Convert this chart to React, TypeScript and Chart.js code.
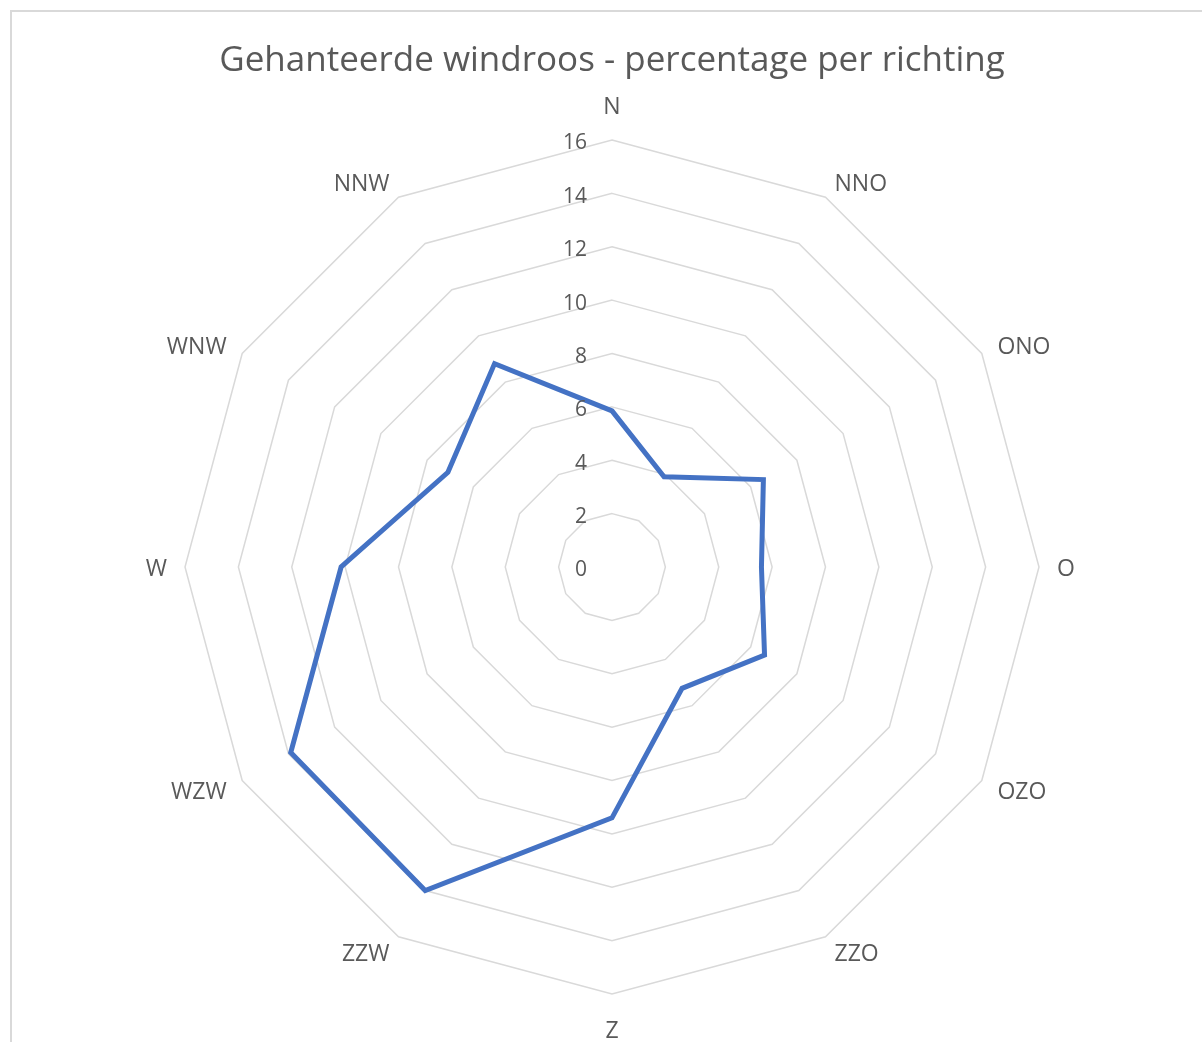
import React, { useEffect, useRef } from "react";
import { Chart, registerables } from "chart.js";

Chart.register(...registerables);

const TITLE = "Gehanteerde windroos - percentage per richting";
const directions = ["N", "NNO", "ONO", "O", "OZO", "ZZO", "Z", "ZZW", "WZW", "W", "WNW", "NNW"];
const percentages = [5.85, 3.9, 6.55, 5.6, 6.6, 5.25, 9.4, 14.0, 13.9, 10.15, 7.1, 8.8];
const tickValues = [0, 2, 4, 6, 8, 10, 12, 14, 16];

const FONT = "'Open Sans', 'Noto Sans', sans-serif";
const TEXT = "#595959";
const GRID = "#d9d9d9";
const LINE = "#4472C4";

const labelsPlugin = {
  id: "excelLabels",
  afterDraw(chart: any) {
    const scale = chart.scales.r;
    const ctx = chart.ctx;
    ctx.save();
    ctx.fillStyle = TEXT;
    // tick labels
    ctx.font = `21px ${FONT}`;
    ctx.textAlign = "right";
    ctx.textBaseline = "middle";
    scale.ticks.forEach((t: any, i: number) => {
      const d = scale.getDistanceFromCenterForValue(t.value);
      ctx.fillText(tickValues[i] !== undefined ? String(tickValues[i]) : t.label, scale.xCenter - 25, scale.yCenter - d + 3.5);
    });
    // point labels
    ctx.font = `23px ${FONT}`;
    directions.forEach((lab, i) => {
      const p = scale.getPointPosition(i, scale.drawingArea + 18);
      const dx = p.x - scale.xCenter;
      const dy = p.y - scale.yCenter;
      let y = p.y + 2.5;
      if (Math.abs(dx) < 1) {
        ctx.textAlign = "center";
        y += dy < 0 ? -17 : 17;
      } else if (dx > 0) {
        ctx.textAlign = "left";
      } else {
        ctx.textAlign = "right";
      }
      ctx.textBaseline = "middle";
      ctx.fillText(lab, p.x, y);
    });
    ctx.restore();
  },
};

export default function App() {
  const ref = useRef<HTMLCanvasElement | null>(null);
  useEffect(() => {
    if (!ref.current) return;
    const chart = new Chart(ref.current, {
      type: "radar",
      data: {
        labels: directions,
        datasets: [
          {
            label: "Percentage",
            data: percentages,
            borderColor: LINE,
            borderWidth: 5,
            fill: false,
            pointRadius: 0,
            pointHoverRadius: 0,
            tension: 0,
          },
        ],
      },
      options: {
        animation: false,
        responsive: false,
        maintainAspectRatio: false,
        layout: { padding: { left: 185, right: 163, top: 0, bottom: 47 } },
        plugins: {
          legend: { display: false },
          tooltip: { enabled: false },
          title: {
            display: true,
            text: TITLE,
            color: TEXT,
            font: { family: FONT, size: 35, weight: "normal", lineHeight: 1.2 },
            padding: { top: 40, bottom: 58 },
          },
        },
        scales: {
          r: {
            min: 0,
            max: 16,
            ticks: { display: false, stepSize: 2 },
            pointLabels: { display: false },
            angleLines: { display: false },
            grid: { color: GRID, lineWidth: 1.5, circular: false },
          },
        },
      },
      plugins: [labelsPlugin],
    });
    return () => chart.destroy();
  }, []);
  return (
    <div style={{ position: "fixed", left: 0, top: 0, width: 1202, height: 1042, overflow: "hidden", background: "#fff" }}>
      <div
        style={{
          position: "absolute",
          left: 10,
          top: 10,
          width: 1300,
          height: 1200,
          border: "2px solid #d9d9d9",
          boxSizing: "border-box",
        }}
      />
      <canvas ref={ref} width={1202} height={1042} style={{ position: "absolute", left: 0, top: 0, width: 1202, height: 1042 }} />
    </div>
  );
}
